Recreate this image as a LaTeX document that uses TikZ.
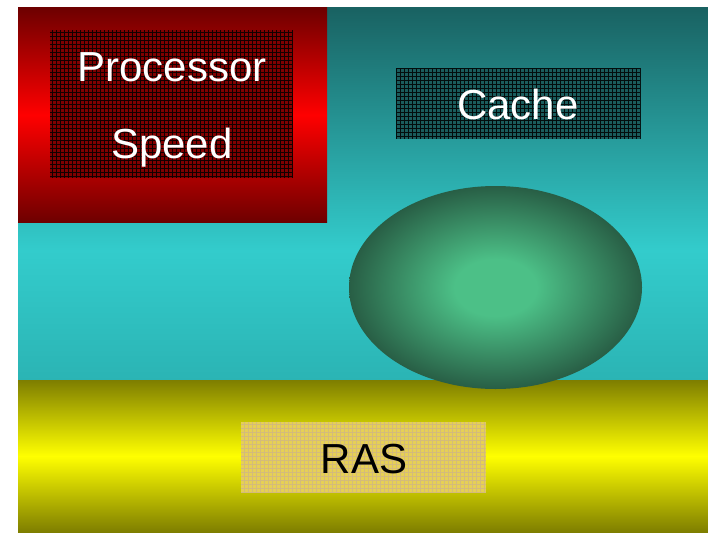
\documentclass[tikz,border=0pt]{standalone}
\usepackage{fontspec}
\setmainfont{Liberation Sans}
\usetikzlibrary{shapes.geometric}
\definecolor{tealtop}{HTML}{196262}
\definecolor{tealmid}{HTML}{33CCCC}
\definecolor{tealbot}{HTML}{2BB4B4}
\definecolor{dred}{HTML}{6E0000}
\definecolor{olive}{HTML}{7E7E00}
\definecolor{elin}{HTML}{4CC087}
\definecolor{elout}{HTML}{285E45}
\definecolor{redcell}{HTML}{800000}
\definecolor{tealcell}{HTML}{1A5C5C}
\definecolor{rascell}{HTML}{E6D055}
\definecolor{rasline}{HTML}{CDB38C}
\pgfdeclareradialshading{ellball}{\pgfpoint{0bp}{0bp}}{color(0bp)=(elin); color(7bp)=(elin); color(25bp)=(elout); color(50bp)=(elout)}
\tikzset{
  gridbox/.style={rectangle, inner sep=0pt, outer sep=0pt},
  lbl/.style={anchor=base, font=\fontsize{42}{42}\selectfont, inner sep=0pt},
  fine/.style={line width=0.9pt, xstep=4pt, ystep=4pt},
}
\begin{document}
\begin{tikzpicture}[x=1pt,y=-1pt]
\useasboundingbox[fill=white] (0,0) rectangle (708,532);
% backgrounds
\fill[top color=tealtop, bottom color=tealmid] (18,8) rectangle (708,250.5);
\fill[top color=tealmid, bottom color=tealbot] (18,250) rectangle (708,380);
\fill[top color=olive, bottom color=olive, middle color=yellow] (18,380) rectangle (708,532);
\fill[top color=dred, bottom color=dred, middle color=red] (18,8) rectangle (327,222);
% ellipse
\node[ellipse, minimum width=293pt, minimum height=203pt, inner sep=0pt, shading=ellball] (disk) at (495.5,287.5) {};
% processor box
\node[gridbox, fill=redcell, minimum width=243pt, minimum height=148pt] (proc) at (171.5,104) {};
\draw[fine, black, opacity=0.85] (proc.south west) grid (proc.north east);
\node[lbl, text=white] (t1) at (172,82) {Processor};
\node[lbl, text=white] (t2) at (172,158) {Speed};
% cache box
\node[gridbox, fill=tealcell, minimum width=244pt, minimum height=71pt] (cache) at (518,103.5) {};
\draw[fine, black, opacity=0.85] (cache.south west) grid (cache.north east);
\node[lbl, text=white] (t3) at (518,119.5) {Cache};
% ras box
\node[gridbox, fill=rascell, minimum width=245pt, minimum height=71pt] (ras) at (363.5,457.5) {};
\draw[fine, rasline, opacity=0.7] (ras.south west) grid (ras.north east);
\node[lbl, text=black] (t4) at (364,473) {RAS};
\end{tikzpicture}
\end{document}
